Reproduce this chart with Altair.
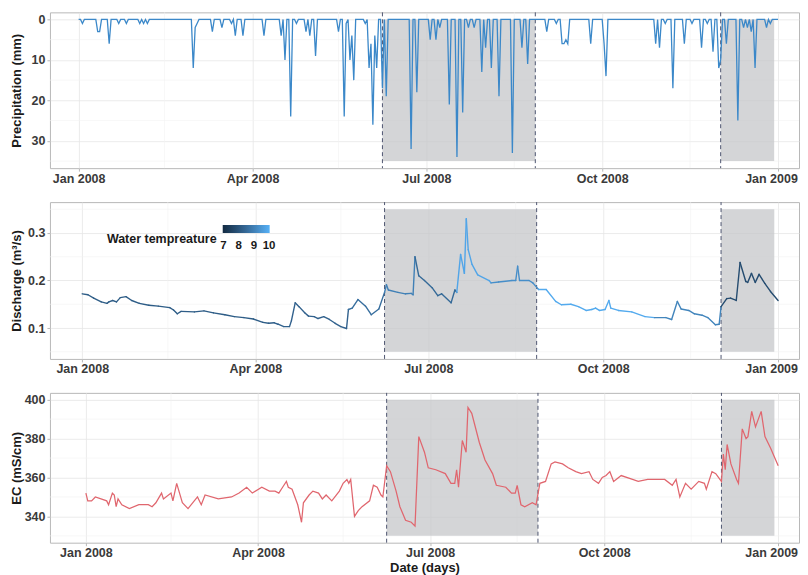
import altair as alt
import pandas as pd

BASE = pd.Timestamp("2008-01-01")

# ---------------- data ----------------
# Precipitation: rain days (day number in 2008) and amount (mm); other days 0
rain_day = [2, 10, 11, 16, 21, 25, 32, 34, 36, 60, 61, 62, 70, 75, 80, 82, 86,
            97, 106, 108, 111, 114, 119, 121, 124, 136, 139, 140, 142, 143, 144, 150,
            152, 153, 154, 155, 156, 159, 161, 174, 177, 184, 187, 189, 194, 198, 201,
            204, 207, 211, 213, 216, 220, 227, 232, 235, 245, 250, 253, 254, 255, 256,
            268, 275, 276, 302, 304, 307, 311, 317, 321, 326, 329, 332, 335, 336, 339,
            345, 348, 350, 352, 354, 360, 362]
rain_mm = [1, 3, 3, 6, 1, 1, 1, 1, 1, 12, 2, 1, 3, 2, 1, 4, 4,
           4, 4, 10, 24, 1, 3, 4, 9, 3, 24, 1, 10, 4, 15, 1,
           12, 6, 26, 4, 12, 17, 19, 32, 18, 5, 5, 2, 21, 34, 23,
           2, 2, 13, 7, 12, 19, 33, 7, 11, 3, 1, 6, 6, 5, 6,
           6, 6, 14, 6, 7, 1, 17, 6, 1, 7, 1, 8, 12, 10, 6,
           25, 2, 2, 3, 12, 2, 1]
n_days = 367

# Discharge (m3/s)
q_day = [0, 3, 6, 10, 13, 14, 16, 18, 20, 23, 26, 30, 35, 40, 46, 48, 50, 52, 59, 64,
         69, 75, 80, 85, 90, 95, 98, 101, 103, 106, 109, 110, 112, 114, 117, 119, 122, 124,
         127, 130, 133, 136, 139, 140, 142, 145, 149, 152, 156, 159, 160, 161, 166, 170,
         173, 174, 175, 177, 180, 184, 187, 189, 194, 196, 197, 199, 201, 202, 203, 205,
         208, 214, 215, 219, 226, 228, 229, 230, 235, 237, 240, 244, 249, 252, 257, 261,
         265, 268, 270, 272, 275, 277, 278, 282, 289, 296, 301, 307, 310, 313, 315, 319,
         322, 326, 329, 333, 335, 336, 339, 341, 344, 346, 349, 350, 352, 354, 356, 359,
         362, 366]
q_val = [0.172, 0.170, 0.163, 0.155, 0.152, 0.155, 0.158, 0.155, 0.164, 0.166, 0.158, 0.152,
         0.148, 0.146, 0.143, 0.138, 0.130, 0.135, 0.134, 0.136,
         0.132, 0.128, 0.124, 0.122, 0.119, 0.112, 0.110, 0.111, 0.108, 0.103, 0.103, 0.115,
         0.153, 0.145, 0.132, 0.125, 0.124, 0.120,
         0.124, 0.118, 0.110, 0.103, 0.099, 0.139, 0.142, 0.160, 0.146, 0.128, 0.140, 0.175,
         0.191, 0.180, 0.175, 0.172,
         0.173, 0.170, 0.250, 0.210, 0.200, 0.185, 0.168, 0.172, 0.153, 0.180, 0.175, 0.255,
         0.215, 0.330, 0.265, 0.234,
         0.212, 0.200, 0.195, 0.197, 0.200, 0.200, 0.230, 0.200, 0.200, 0.195, 0.181, 0.181,
         0.156, 0.149, 0.150, 0.145,
         0.137, 0.139, 0.142, 0.137, 0.139, 0.158, 0.142, 0.137, 0.134, 0.124, 0.122, 0.122,
         0.118, 0.156, 0.140, 0.137,
         0.130, 0.127, 0.122, 0.107, 0.108, 0.145, 0.162, 0.163, 0.158, 0.238, 0.198, 0.196,
         0.215, 0.196, 0.213, 0.194,
         0.177, 0.158]

# Water temperature (deg C) from the line colour, by period start day
t_day = [0, 100, 140, 159, 175, 197, 215, 240, 300, 336]
t_val = [8.2, 8.3, 8.6, 9.0, 8.5, 9.8, 9.3, 9.9, 9.1, 7.8]

# EC (mS/cm)
ec_day = [0, 1, 3, 5, 8, 11, 12, 14, 15, 16, 17, 19, 23, 28, 33, 35, 37, 40, 41, 45, 46,
          48, 51, 54, 59, 61, 63, 70, 77, 81, 85, 88, 93, 97, 100, 102, 104, 106, 107, 109,
          112, 114, 115, 118, 120, 123, 125, 127, 130, 134, 136, 138, 139, 140, 142, 144,
          146, 150, 152, 154, 156, 157, 159, 161, 164, 166, 169, 172, 174, 176, 179, 181,
          185, 190, 193, 195, 196, 197, 199, 201, 202, 204, 208, 211, 215, 217, 222, 225,
          227, 228, 230, 232, 236, 238, 240, 243, 246, 248, 252, 255, 259, 262, 266, 268,
          271, 273, 275, 277, 279, 283, 289, 292, 297, 306, 310, 312, 314, 317, 320, 324,
          327, 328, 331, 333, 336, 337, 338, 339, 341, 344, 345, 347, 349, 350, 352, 354,
          357, 359, 362, 366]
ec_val = [352, 348, 348, 350, 349, 348, 346, 352, 351, 345, 349, 346, 344, 346, 346, 345, 347,
          352, 349, 352, 348,
          357, 347, 344, 350, 346, 351, 349, 350, 352, 355, 352, 355, 353, 353, 352, 355, 358,
          355, 354,
          346, 337, 347, 351, 353, 352, 349, 351, 348, 353, 357, 359, 357, 359, 340, 343,
          345, 348, 356, 355, 351, 350, 366, 363, 353, 345, 338, 337, 335, 381, 373, 365,
          364, 362, 357, 357, 364, 355, 379, 373, 396, 393, 378, 369, 362, 356, 355, 352,
          352, 356, 346, 345, 347, 346, 357, 358, 367, 368, 367, 365, 363, 362, 363, 359,
          357, 360, 361, 363, 358, 361, 359, 358, 359, 359, 356, 359, 350, 357, 354, 358,
          357, 354, 363, 362, 358, 372, 364, 377, 367, 359, 357, 385, 380, 381, 394, 386,
          394, 381, 375, 366]

assert len(rain_day) == len(rain_mm)
assert len(q_day) == len(q_val)
assert len(ec_day) == len(ec_val)

shade_start = ["2008-06-08", "2008-12-02"]
shade_end = ["2008-08-27", "2008-12-30"]
dash_dates = ["2008-06-08", "2008-08-27", "2008-12-02"]

x_ticks = ["2008-01-01", "2008-04-01", "2008-07-01", "2008-10-01", "2009-01-01"]
x_minor = ["2008-02-15", "2008-05-16", "2008-08-16", "2008-11-16"]
x_end = "2009-01-12"
# left end of the date axis of each panel (the three panels are not aligned in the original)
x_start = {"p": "2007-12-17", "q": "2007-12-15", "e": "2007-12-13"}

p_dom, p_ticks, p_minor, p_shade = [-1.75, 36.75], [0, 10, 20, 30], [5, 15, 25, 35], [0, 35]
q_dom, q_ticks, q_minor, q_shade = [0.035, 0.365], [0.1, 0.2, 0.3], [0.05, 0.15, 0.25, 0.35], [0.05, 0.35]
e_dom, e_ticks, e_minor, e_shade = [326.5, 403.5], [340, 360, 380, 400], [330, 350, 370, 390], [330, 400]

temp_domain = [6.96, 10.04]
temp_ticks = [7, 8, 9, 10]

# ---------------- tables ----------------
def day_dates(days):
    return [BASE + pd.Timedelta(days=int(d)) for d in days]

def dt(s):
    t = pd.Timestamp(s)
    return alt.DateTime(year=t.year, month=t.month, date=t.day)

rain = dict(zip(rain_day, rain_mm))
p_df = pd.DataFrame({"date": day_dates(range(n_days)),
                     "mm": [rain.get(d, 0) for d in range(n_days)]})

def temp_at(d):
    v = t_val[0]
    for td, tv in zip(t_day, t_val):
        if td <= d:
            v = tv
    return v

qd = day_dates(q_day)
q_df = pd.DataFrame({"d0": qd[:-1], "d1": qd[1:], "q0": q_val[:-1], "q1": q_val[1:],
                     "temp": [temp_at(d) for d in q_day[:-1]]})
ec_df = pd.DataFrame({"date": day_dates(ec_day), "ec": ec_val})

FONT = "Liberation Sans"


def xaxis(title):
    return alt.Axis(values=[dt(s) for s in x_ticks], format="%b %Y", title=title,
                    grid=True, tickSize=3, labelPadding=1, minExtent=17, maxExtent=17,
                    titlePadding=1.5,
                    labelOffset=alt.ExprRef("year(datum.value) >= 2009 ? -7 : 0"))


def panel(key, main_layer, ydom, rev, yticks, yminor, yshade, ytitle, yfmt, w, h, xtitle):
    xscale = alt.Scale(domain=[dt(x_start[key]), dt(x_end)], nice=False)
    yscale = alt.Scale(domain=ydom, reverse=rev, nice=False, zero=False)
    yaxis = alt.Axis(values=yticks, format=yfmt, title=ytitle, grid=True, tickSize=3,
                     labelPadding=2, minExtent=24, maxExtent=24, titlePadding=2.5)
    xa = xaxis(xtitle)

    vminor = alt.Chart(pd.DataFrame({"d": pd.to_datetime(x_minor)})).mark_rule(
        color="#f1f1f1", strokeWidth=0.6).encode(x=alt.X("d:T", scale=xscale, axis=xa))
    hminor = alt.Chart(pd.DataFrame({"v": yminor})).mark_rule(
        color="#f1f1f1", strokeWidth=0.6).encode(y=alt.Y("v:Q", scale=yscale, axis=yaxis))
    shade = alt.Chart(pd.DataFrame({"s": pd.to_datetime(shade_start),
                                    "e": pd.to_datetime(shade_end),
                                    "lo": [yshade[0]] * len(shade_start),
                                    "hi": [yshade[1]] * len(shade_start)})).mark_rect(
        fill="#c4c5c8", opacity=0.72).encode(
        x=alt.X("s:T", scale=xscale, axis=xa), x2="e:T",
        y=alt.Y("lo:Q", scale=yscale, axis=yaxis), y2="hi:Q")
    dash = alt.Chart(pd.DataFrame({"d": pd.to_datetime(dash_dates),
                                   "lo": [ydom[0]] * len(dash_dates),
                                   "hi": [ydom[1]] * len(dash_dates)})).mark_rule(
        color="#4e5570", strokeDash=[4, 3], strokeWidth=1).encode(
        x=alt.X("d:T", scale=xscale, axis=xa),
        y=alt.Y("lo:Q", scale=yscale, axis=yaxis), y2="hi:Q")
    main = main_layer(xscale, xa, yscale, yaxis)
    return alt.layer(vminor, hminor, shade, dash, main).properties(width=w, height=h)


def precip_layer(xs, xa, ys, ya):
    return alt.Chart(p_df).mark_line(color="#3b88c9", strokeWidth=1.3).encode(
        x=alt.X("date:T", scale=xs, axis=xa),
        y=alt.Y("mm:Q", scale=ys, axis=ya))


def q_layer(xs, xa, ys, ya):
    return alt.Chart(q_df).mark_rule(strokeWidth=1.4, strokeCap="round").encode(
        x=alt.X("d0:T", scale=xs, axis=xa), x2="d1:T",
        y=alt.Y("q0:Q", scale=ys, axis=ya), y2="q1:Q",
        color=alt.Color("temp:Q",
                        scale=alt.Scale(domain=temp_domain, range=["#132B43", "#56B1F7"],
                                        nice=False),
                        legend=alt.Legend(title="Water tempreature", orient="none",
                                          legendX=57, legendY=213, direction="horizontal",
                                          titleOrient="left", gradientLength=47,
                                          gradientThickness=8, values=temp_ticks,
                                          labelAlign="center", labelOverlap=False,
                                          labelOffset=7, labelFontSize=11.5,
                                          labelFontWeight="bold", labelColor="#1a1a1a",
                                          titleFontSize=12.5, titleFontWeight="bold",
                                          titleColor="#1a1a1a", titleFont=FONT,
                                          labelFont=FONT, padding=0, titlePadding=6,
                                          titleAnchor="end", titleBaseline="top",
                                          gradientStrokeWidth=0)))


def ec_layer(xs, xa, ys, ya):
    return alt.Chart(ec_df).mark_line(color="#e0666e", strokeWidth=1.25).encode(
        x=alt.X("date:T", scale=xs, axis=xa),
        y=alt.Y("ec:Q", scale=ys, axis=ya))


p1 = panel("p", precip_layer, p_dom, True, p_ticks, p_minor, p_shade, "Precipitation (mm)",
           "d", 750, 156, None)
p2 = panel("q", q_layer, q_dom, False, q_ticks, q_minor, q_shade, "Discharge (m³/s)",
           ".1f", 750, 157, None)
p3 = panel("e", ec_layer, e_dom, False, e_ticks, e_minor, e_shade, "EC (mS/cm)",
           "d", 750, 150, "Date (days)")

chart = alt.vconcat(p1, p2, p3, spacing=15).properties(
    padding={"left": 2, "top": 3, "right": 0, "bottom": 0}
).configure(font=FONT).configure_view(
    stroke="#b8b8b8", strokeWidth=1
).configure_axis(
    labelFont=FONT, labelFontWeight="bold", labelColor="#3a3a3a", labelFontSize=12.5,
    titleFont=FONT, titleFontWeight="bold", titleFontSize=13, titleColor="#1a1a1a",
    gridColor="#e6e6e6", gridWidth=0.8, tickColor="#b8b8b8", domain=False
)

chart.save("out.html", embed_options={"renderer": "svg", "actions": False})
